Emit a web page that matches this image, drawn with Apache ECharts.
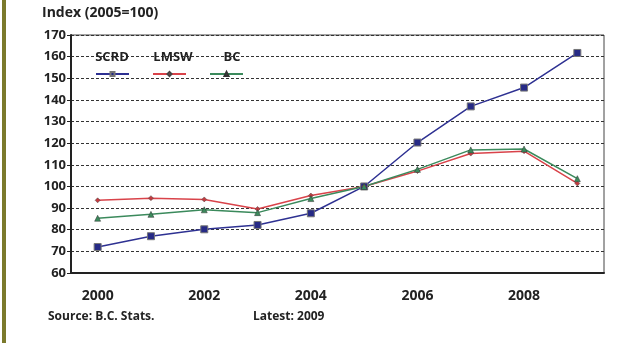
<!DOCTYPE html>
<html>
<head>
<meta charset="utf-8">
<script src="https://cdn.jsdelivr.net/npm/echarts@6/dist/echarts.min.js"></script>
<style>
    html, body { margin: 0; padding: 0; background: #fff; }
    #chart { width: 627px; height: 343px; }
</style>
</head>
<body>
<div id="chart"></div>
<script>
    const years = ['2000', '2001', '2002', '2003', '2004', '2005', '2006', '2007', '2008', '2009'];
    const scrd = [72, 77, 80.2, 82.2, 87.6, 100, 120.3, 137, 145.7, 161.7];
    const lmsw = [93.6, 94.6, 94, 89.6, 95.8, 100, 107.1, 115.2, 116.3, 101.4];
    const bc = [85.3, 87.1, 89.2, 87.9, 94.4, 100, 107.9, 116.9, 117.3, 103.6];

    const font = '"Open Sans", "Noto Sans", sans-serif';
    const chart = echarts.init(document.getElementById('chart'));

    // 图例文字（放在图标上方）
    function legendLabel(text, x) {
        return {
            type: 'text', x: x, y: 57, z: 10,
            style: {text: text, font: 'bold 13px ' + font, fill: '#222', align: 'center', verticalAlign: 'middle'}
        };
    }

    const option = {
        animation: false,
        textStyle: {fontFamily: font},
        grid: {
            left: 71, right: 23, top: 35, bottom: 70,
            show: true, borderColor: '#444', borderWidth: 1
        },
        legend: {
            left: 90, top: 66,
            itemWidth: 33, itemHeight: 5, itemGap: 22,
            formatter: function () { return ''; },
            data: ['SCRD', 'LMSW', 'BC']
        },
        graphic: [
            {type: 'rect', left: 2, top: 0, shape: {width: 4, height: 343}, style: {fill: '#7b7a2c'}},
            {type: 'text', left: 42, top: 6, style: {text: 'Index (2005=100)', font: 'bold 14px ' + font, fill: '#222'}},
            {type: 'text', left: 48, top: 311, style: {text: 'Source: B.C. Stats.', font: 'bold 12px ' + font, fill: '#222'}},
            {type: 'text', left: 253, top: 311, style: {text: 'Latest: 2009', font: 'bold 12px ' + font, fill: '#222'}},
            legendLabel('SCRD', 112),
            legendLabel('LMSW', 173),
            legendLabel('BC', 232)
        ],
        xAxis: {
            type: 'category',
            data: years,
            boundaryGap: true,
            axisLine: {lineStyle: {color: '#222', width: 2}},
            axisTick: {alignWithLabel: true, interval: 0, length: 6, lineStyle: {color: '#222'}},
            axisLabel: {interval: 1, margin: 16, color: '#222', fontWeight: 'bold', fontSize: 14}
        },
        yAxis: {
            type: 'value',
            min: 60, max: 170, interval: 10,
            axisLine: {show: true, lineStyle: {color: '#222', width: 2}},
            axisTick: {show: true, length: 4, lineStyle: {color: '#222'}},
            axisLabel: {margin: 5, color: '#222', fontWeight: 'bold', fontSize: 13},
            splitLine: {lineStyle: {color: '#333', type: [3, 2], width: 1}}
        },
        series: [
            {
                name: 'SCRD', type: 'line', data: scrd,
                symbol: 'rect', symbolSize: 7,
                lineStyle: {color: '#2e3192', width: 1.5},
                itemStyle: {color: '#262a86', borderColor: '#777', borderWidth: 1}
            },
            {
                name: 'LMSW', type: 'line', data: lmsw,
                symbol: 'diamond', symbolSize: 5,
                lineStyle: {color: '#d9434a', width: 1.5},
                itemStyle: {color: '#c33a3f', borderColor: '#444', borderWidth: 0.5}
            },
            {
                name: 'BC', type: 'line', data: bc,
                symbol: 'triangle', symbolSize: 6,
                lineStyle: {color: '#3b8a5c', width: 1.5},
                itemStyle: {color: '#3b8a5c', borderColor: '#333', borderWidth: 0.5}
            }
        ]
    };
    chart.setOption(option);
</script>
</body>
</html>
